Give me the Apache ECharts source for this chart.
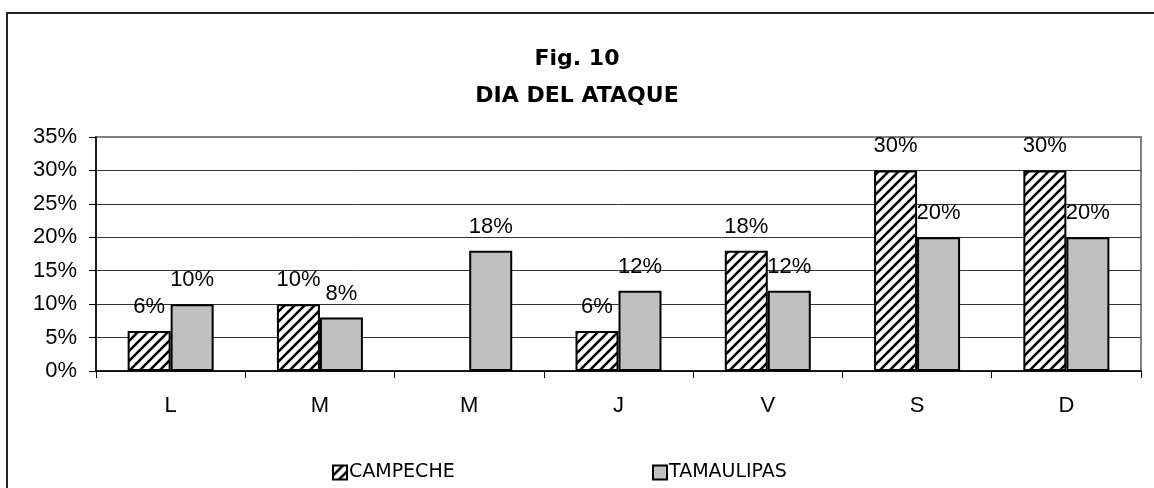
<!DOCTYPE html>
<html>
<head>
<meta charset="utf-8">
<title>Fig. 10 DIA DEL ATAQUE</title>
<script src="https://cdn.jsdelivr.net/npm/echarts@6/dist/echarts.min.js"></script>
<style>
  html, body { margin: 0; padding: 0; background: #fff; }
  #box1 { width: 1154px; height: 488px; }
</style>
</head>
<body>
<div id="box1"></div>
<script>
// datos
var dias = ['L', 'M', 'M', 'J', 'V', 'S', 'D'];
var campeche = [6, 10, 0, 6, 18, 30, 30];
var tamaulipas = [10, 8, 18, 12, 12, 20, 20];
var yTicks = [0, 5, 10, 15, 20, 25, 30, 35];

var arial = "'Liberation Sans', Arial, sans-serif";

// trama diagonal para CAMPECHE
function hatch() {
  var c = document.createElement('canvas');
  c.width = 10; c.height = 10;
  var ctx = c.getContext('2d');
  ctx.fillStyle = '#fff';
  ctx.fillRect(0, 0, 10, 10);
  ctx.strokeStyle = '#000';
  ctx.lineWidth = 2.6;
  ctx.beginPath();
  ctx.moveTo(-2, 12); ctx.lineTo(12, -2);
  ctx.moveTo(-7, 7); ctx.lineTo(7, -7);
  ctx.moveTo(3, 17); ctx.lineTo(17, 3);
  ctx.stroke();
  return c;
}

// barras de valor 0 sin borde
function barras(arr) {
  return arr.map(function (v) {
    return v === 0 ? { value: v, itemStyle: { borderWidth: 0 } } : v;
  });
}

var myChart1 = echarts.init(document.getElementById('box1'));

function lbl(p) {
  return p.value === 0 ? '' : p.value + '%';
}

var option1 = {
  animation: false,
  backgroundColor: '#fff',
  title: {
    text: 'Fig. 10\nDIA DEL ATAQUE',
    left: 'center',
    top: 36,
    textStyle: {
      fontFamily: 'DejaVu Sans',
      fontWeight: 'bold',
      fontSize: 22,
      lineHeight: 37,
      color: '#000'
    }
  },
  graphic: [{   // marco exterior
    type: 'rect',
    shape: { x: 7, y: 13, width: 1160, height: 500 },
    style: { fill: null, stroke: '#222', lineWidth: 2 },
    silent: true
  }],
  legend: [{
    data: ['CAMPECHE'],
    left: 327, top: 458,
    icon: 'rect',
    itemWidth: 14, itemHeight: 14, itemGap: 0,
    textStyle: { fontFamily: 'DejaVu Sans', fontSize: 19, color: '#000', padding: [0, 0, 0, -3] }
  }, {
    data: ['TAMAULIPAS'],
    left: 647, top: 458,
    icon: 'rect',
    itemWidth: 14, itemHeight: 14, itemGap: 0,
    textStyle: { fontFamily: 'DejaVu Sans', fontSize: 19, color: '#000', padding: [0, 0, 0, -3] }
  }],
  grid: {
    left: 96, right: 13, top: 137, bottom: 117,
    show: true, borderColor: '#808080', borderWidth: 2
  },
  xAxis: {
    type: 'category',
    data: dias,
    axisLine: { lineStyle: { color: '#000', width: 1.5 } },
    axisTick: { show: true, length: 7, lineStyle: { color: '#000' } },
    axisLabel: { color: '#000', fontFamily: arial, fontSize: 22, margin: 24 },
    splitLine: { show: false }
  },
  yAxis: {
    type: 'value',
    min: yTicks[0], max: yTicks[yTicks.length - 1], interval: 5,
    axisLine: { show: true, lineStyle: { color: '#000', width: 1.5 } },
    axisTick: { show: true, length: 7, lineStyle: { color: '#000' } },
    axisLabel: { color: '#000', fontFamily: arial, fontSize: 22, margin: 19, formatter: '{value}%' },
    splitLine: { showMaxLine: false, lineStyle: { color: '#333', width: 1 } }
  },
  series: [{
    name: 'CAMPECHE',
    type: 'bar',
    data: barras(campeche),
    barWidth: 43,
    barGap: '0%',
    itemStyle: {
      color: { image: hatch(), repeat: 'repeat' },
      borderColor: '#000', borderWidth: 2
    },
    label: {
      show: true, position: 'top', distance: 13, formatter: lbl,
      color: '#000', fontFamily: arial, fontSize: 22
    }
  }, {
    name: 'TAMAULIPAS',
    type: 'bar',
    data: barras(tamaulipas),
    barWidth: 43,
    itemStyle: { color: '#c0c0c0', borderColor: '#000', borderWidth: 2 },
    label: {
      show: true, position: 'top', distance: 13, formatter: lbl,
      color: '#000', fontFamily: arial, fontSize: 22
    }
  }]
};

myChart1.setOption(option1);
</script>
</body>
</html>
